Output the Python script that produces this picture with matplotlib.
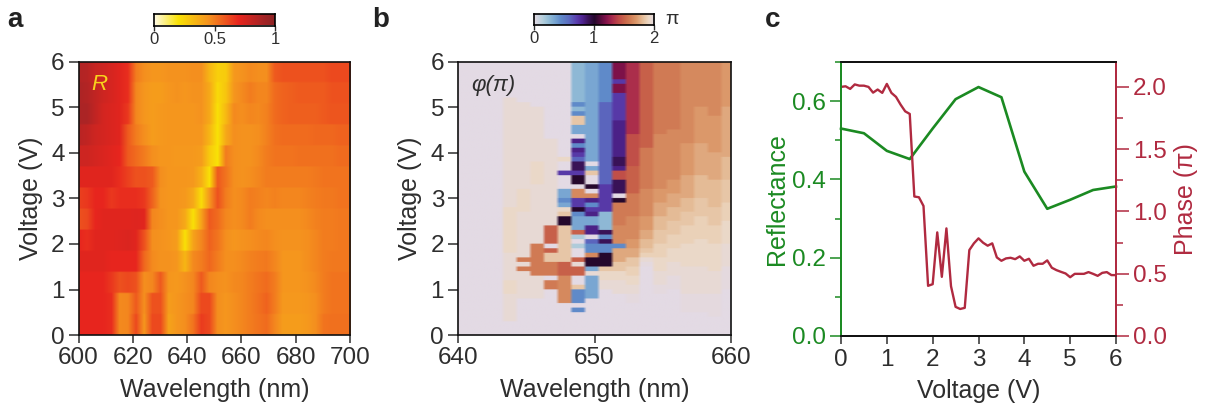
import numpy as np
import matplotlib
matplotlib.use("Agg")
import matplotlib.pyplot as plt
from matplotlib.colors import LinearSegmentedColormap
from matplotlib.ticker import MultipleLocator

plt.rcParams['font.family'] = ['Liberation Sans', 'DejaVu Sans']
INK = '#2e2e2e'
GREEN = '#1b8a22'
CRIM = '#b02a40'

W, H = 1205, 404

# ---- panel a: reflectance (x100), rows bottom to top, one column per 3 nm from 600 nm
wavelength_a = list(range(600, 702, 3))
R_rows = [
 [70,70,70,70,68,47,48,62,44,62,62,40,44,46,52,65,62,46,44,46,48,50,52,54,48,42,42,42,43,46,52,53,53,53],
 [70,70,70,70,68,47,48,58,46,60,60,42,44,46,48,62,62,46,44,46,48,50,53,56,50,43,43,43,44,46,50,52,52,52],
 [70,70,70,70,66,60,62,60,46,48,58,44,43,45,48,58,48,46,45,47,48,50,52,54,50,44,44,44,45,47,50,52,52,52],
 [72,72,72,72,70,70,70,70,55,47,45,45,44,34,47,50,55,50,46,46,47,49,50,51,48,44,44,44,46,48,50,51,51,51],
 [70,68,72,72,72,73,74,72,60,46,45,44,42,21,40,48,56,52,46,44,45,46,47,48,46,45,45,45,46,48,50,50,51,51],
 [60,62,70,72,72,72,72,73,72,48,46,44,44,38,21,40,58,54,48,46,47,50,47,46,46,46,46,46,47,49,50,50,51,51],
 [64,66,70,70,66,68,68,68,66,56,45,44,44,43,38,22,44,60,50,46,47,50,49,48,49,48,48,48,49,50,51,51,52,52],
 [72,72,72,72,72,68,64,60,60,58,46,44,44,44,43,36,21,58,52,46,45,46,48,50,50,50,50,50,50,51,52,52,52,52],
 [78,78,76,74,72,70,58,54,50,46,44,44,43,43,43,42,28,20,50,46,45,45,47,50,52,52,52,53,53,53,53,53,54,54],
 [84,82,78,76,74,72,58,50,46,42,43,44,44,44,44,44,34,20,38,46,45,45,46,49,53,54,54,54,54,55,55,55,56,56],
 [88,88,82,76,74,72,66,48,44,42,43,44,44,44,44,45,38,21,33,47,46,48,47,49,54,56,57,57,57,57,58,59,59,59],
 [88,86,82,78,75,72,68,48,44,42,42,44,45,44,45,45,38,23,29,44,47,50,48,48,54,56,57,58,58,58,58,60,60,60],
 [86,85,80,78,75,72,68,50,46,44,44,45,45,45,46,46,34,26,27,43,45,47,46,46,58,60,60,60,60,60,60,62,62,62],
]

# ---- panel b: phase, colour-class runs per 1 nm column, top (6 V) to bottom (0 V), 0.1 V per cell
phase_levels = dict(t=1.98, a=1.95, b=1.91, u=1.87, c=1.83, v=1.79, d=1.74, w=1.69, e=1.64, f=1.58, g=1.48, h=1.42,
                    i=1.31, j=1.18, k=1.00, l=0.90, m=0.82, n=0.72, o=0.60, p=0.44, q=0.34, r=0.26, s=0.16)
phase_levels['.'] = 2.0
phase_columns = [
 ".60", ".60", ".60", ".60",
 ".8 a24 b10 a6 b3 a6 .3",
 ".9 a19 b5 a10 f1 a1 f1 a6 .8",
 ".10 a12 b5 a13 f7 a5 .8",
 ".17 a19 g4 .1 g1 c2 f3 .1 f2 .10",
 ".21 b1 .2 n1 .3 q2 p1 q1 b1 c1 k2 c8 g3 e3 e3 .7",
 "r9 p1 r1 p1 c2 q2 .1 m1 p1 m1 n1 o1 l2 n1 k2 .1 e2 n2 k1 p1 q2 q1 g1 s1 .1 s1 .2 g1 a1 g2 .2 c1 p2 p1 .1 p1 .5",
 "q21 q1 .1 q1 c1 .2 k1 .1 e1 m1 p1 n1 m1 q2 m2 .1 o1 p2 e1 k2 q1 a1 q5 .8",
 "p9 o13 o5 n5 n1 r4 l1 p1 l1 p2 k3 c1 b2 a2 .10",
 "j4 n1 j2 n6 m8 l2 m1 h2 l3 .1 k1 f5 e4 p1 d3 c2 b2 a3 .9",
 "i16 h7 g6 f5 e5 w2 d2 c2 u2 b2 a2 t2 .7",
 "g19 f9 e6 w3 d2 v2 c1 u1 a1 t1 .15",
 "f16 e12 w3 d3 v3 c3 u3 b3 a3 t2 .9",
 "f15 e11 w3 d3 v3 c3 u3 b3 a3 t3 .10",
 "e18 w7 d5 v3 c3 u4 b5 a6 t4 .5",
 "e10 w8 d7 v5 c4 u5 b6 a6 t4 .5",
 "e12 w8 d6 v6 c4 u4 b6 a5 t5 .4",
 "w10 d11 v5 c5 u4 b5 a5 t5 .10",
]

# ---- panel c
voltage_r = [0, 0.5, 1, 1.5, 2, 2.5, 3, 3.5, 4, 4.5, 5, 5.5, 6]
reflectance = [.53, .518, .473, .452, .53, .605, .636, .61, .42, .325, .348, .373, .382]
voltage_p = [i / 10 for i in range(61)]
phase = [2.00, 2.005, 1.984, 2.02, 2.01, 2.01, 2.0, 1.954, 1.979, 1.952, 2.024, 1.952, 1.92, 1.858, 1.804, 1.783,
         1.12, 1.114, 1.044, .403, .416, .832, .475, .864, .40, .234, .217, .226, .69, .744, .784, .749, .725, .744,
         .631, .604, .623, .628, .617, .639, .604, .62, .564, .58, .58, .607, .548, .529, .515, .502, .472, .499,
         .499, .499, .513, .499, .483, .507, .513, .489, .489]

cmap_a = LinearSegmentedColormap.from_list('refl', [
    (0.0, '#fffbe8'), (0.2, '#f9e206'), (0.45, '#f5931f'), (0.7, '#e8261e'), (0.9, '#a62426'), (1.0, '#8c2324')])
cmap_b = LinearSegmentedColormap.from_list('phase', [
    (0.0, '#e3dae4'), (0.07, '#b5cfdc'), (0.12, '#93bdd6'), (0.17, '#79a6d2'), (0.22, '#5f8ac9'), (0.29, '#5c6bc0'),
    (0.35, '#5a3fae'), (0.40, '#4f2490'), (0.45, '#3a1358'), (0.50, '#24082c'), (0.56, '#5f0d3f'), (0.60, '#85134b'),
    (0.65, '#a92c4c'), (0.70, '#bf4a48'), (0.75, '#c9654a'), (0.80, '#d27f56'), (0.85, '#dc9a6c'), (0.90, '#e5bd98'),
    (0.95, '#ecd8c4'), (1.0, '#e3dae4')])


def px_axes(l, t, r, b):
    return fig.add_axes([l / W, 1 - b / H, (r - l) / W, (b - t) / H])


def style(ax):
    for s in ax.spines.values():
        s.set_linewidth(1.2)
        s.set_color('#111111')
    ax.tick_params(axis='x', length=6, width=1.1, labelsize=17.5, colors=INK, pad=3)
    ax.tick_params(axis='y', length=7, width=1.1, labelsize=17.5, colors=INK, pad=3)
    ax.set_ylim(0, 6)
    ax.set_yticks(range(7))
    ax.set_ylabel('Voltage (V)', fontsize=18, color=INK, labelpad=6)
    ax.set_xlabel('Wavelength (nm)', fontsize=18, color=INK, labelpad=6)


fig = plt.figure(figsize=(W / 100, H / 100), dpi=100)

# panel a
ax = px_axes(78.5, 62, 350, 335)
Z = np.repeat(np.array(R_rows) / 100, 12, axis=0)
ax.imshow(Z, origin='lower', aspect='auto', cmap=cmap_a, vmin=0, vmax=1, interpolation='bilinear',
          extent=[wavelength_a[0] - 1.5, wavelength_a[-1] + 1.5, 0, 6])
ax.set_xlim(600, 700)
ax.set_xticks(range(600, 701, 20))
style(ax)
fig.text(99 / W, 1 - 85 / H, 'R', style='italic', fontsize=16, color='#f8d21c', ha='center', va='center')

cb = px_axes(154, 14, 275, 25.5)
cb.imshow(np.linspace(0, 1, 256)[None, :], aspect='auto', cmap=cmap_a, extent=[0, 1, 0, 1])
cb.set_yticks([])
cb.set_xticks([0, .5, 1], ['0', '0.5', '1'])
cb.tick_params(axis='x', length=3.5, width=1, labelsize=12, colors=INK, pad=1)
for s in cb.spines.values():
    s.set_linewidth(1.2)

# panel b
cols = []
for c in phase_columns:
    vals = []
    for tok in c.split():
        vals += [phase_levels[tok[0]]] * int(tok[1:])
    cols.append(vals)
P = np.array(cols).T
P_fine = np.repeat(np.repeat(P, 4, axis=0), 4, axis=1)
ax = px_axes(458, 62, 731, 335)
ax.imshow(P_fine, origin='upper', aspect='auto', cmap=cmap_b, vmin=0, vmax=2, interpolation='bilinear',
          extent=[639.3, 660.3, 0, 6])
ax.set_xlim(640, 660)
ax.set_xticks([640, 650, 660])
style(ax)
fig.text(493 / W, 1 - 85 / H, 'φ(π)', fontsize=16, color=INK, ha='center', va='center', style='italic')

cb = px_axes(533.5, 14, 654, 25)
cb.imshow(np.linspace(0, 2, 256)[None, :], aspect='auto', cmap=cmap_b, extent=[0, 2, 0, 1])
cb.set_yticks([])
cb.set_xticks([0, 1, 2], ['0', '1', '2'])
cb.tick_params(axis='x', length=3.5, width=1, labelsize=12, colors=INK, pad=1)
for s in cb.spines.values():
    s.set_linewidth(1.2)
fig.text(672 / W, 1 - 20 / H, 'π', fontsize=14, color=INK, ha='center', va='center')

# panel c
ax = px_axes(841, 62, 1116, 336)
ax.plot(voltage_r, reflectance, color=GREEN, lw=1.9, clip_on=False)
ax.set_xlim(0, 6)
ax.set_ylim(0, 0.7)
ax.set_xticks(range(7))
ax.yaxis.set_major_locator(MultipleLocator(0.2))
ax.yaxis.set_minor_locator(MultipleLocator(0.1))
ax.tick_params(axis='x', length=6, width=1.1, labelsize=17.5, colors=INK, pad=3)
ax.tick_params(axis='y', which='major', length=8, width=1.1, labelsize=17.5, colors=GREEN, pad=3)
ax.tick_params(axis='y', which='minor', length=4, width=1.1, colors=GREEN)
ax.set_xlabel('Voltage (V)', fontsize=18, color=INK, labelpad=6)
ax.set_ylabel('Reflectance', fontsize=18, color=GREEN, labelpad=2)
ax2 = ax.twinx()
ax2.plot(voltage_p, phase, color=CRIM, lw=1.7)
ax2.set_ylim(0, 2.2)
ax2.yaxis.set_major_locator(MultipleLocator(0.5))
ax2.yaxis.set_minor_locator(MultipleLocator(0.25))
ax2.tick_params(axis='y', which='major', length=9, width=1.1, labelsize=17.5, colors=CRIM, pad=3)
ax2.tick_params(axis='y', which='minor', length=5, width=1.1, colors=CRIM)
ax2.set_ylabel('Phase (π)', fontsize=18, color=CRIM, labelpad=5)
for a in (ax, ax2):
    a.spines['left'].set_color(GREEN)
    a.spines['right'].set_color(CRIM)
    a.spines['top'].set_color('#111111')
    a.spines['bottom'].set_color('#111111')
    for s in a.spines.values():
        s.set_linewidth(1.3)

# panel letters
for label, x in zip('abc', (15, 381, 773)):
    fig.text(x / W, 1 - 20 / H, label, fontsize=20, fontweight='bold', color='#222222', ha='center', va='center')

fig.savefig('out.png', dpi=100)
